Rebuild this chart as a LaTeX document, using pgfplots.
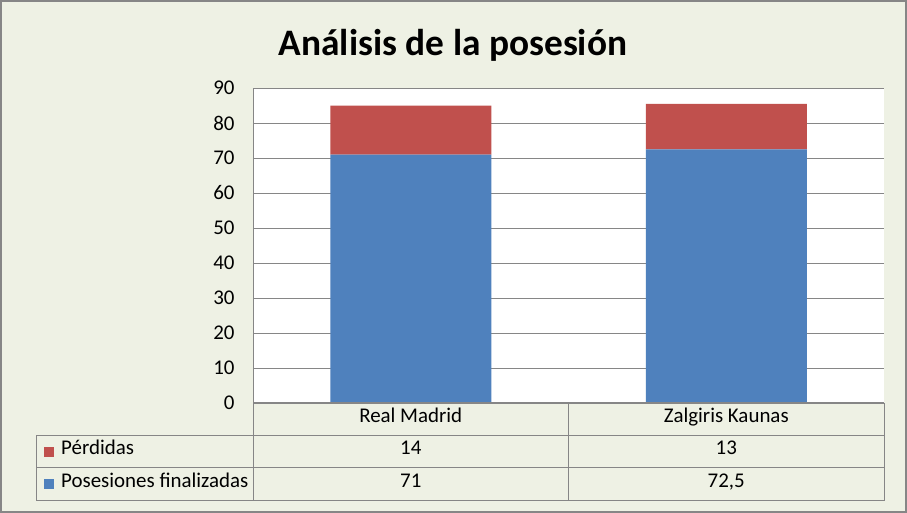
\documentclass[border=0pt]{standalone}
\usepackage{pgfplots}
\pgfplotsset{compat=1.18}
\usepackage{fontspec}
\setmainfont{Carlito}
\definecolor{bg}{RGB}{238,241,228}
\definecolor{frame}{RGB}{134,134,134}
\definecolor{gridc}{RGB}{134,134,134}
\definecolor{blu}{RGB}{79,129,189}
\definecolor{rd}{RGB}{192,80,77}
\begin{document}
\begin{tikzpicture}
\fill[bg] (0,0) rectangle (907bp,513bp);
\draw[frame, line width=2bp] (1bp,1bp) rectangle (906bp,512bp);
\node[font=\fontsize{37.5}{42}\selectfont\bfseries] at (453bp,468bp) {Análisis de la posesión};
\begin{axis}[
 at={(253bp,110bp)}, anchor=south west,
 scale only axis, width=631bp, height=315bp,
 xmin=0, xmax=2, ymin=0, ymax=90,
 ytick={0,10,...,90},
 xtick=\empty,
 ymajorgrids, grid style={gridc, line width=0.8bp},
 axis x line*=bottom, axis y line*=left,
 axis line style={gridc, line width=0.8bp, -},
 major tick length=0,
 ybar stacked, bar width=161bp,
 axis background/.style={fill=white},
 tick label style={font=\fontsize{21}{25}\selectfont},
 /pgf/number format/assume math mode=true,
 yticklabel style={xshift=-15bp},
 clip=false,
]
\addplot[fill=blu, draw=none] coordinates {(0.5,71) (1.5,72.5)};
\addplot[fill=rd, draw=none] coordinates {(0.5,14) (1.5,13)};
\end{axis}
\begin{scope}[gridc, line width=1bp]
\draw (253bp,110bp) -- (884bp,110bp);
\draw (36bp,77bp) -- (884bp,77bp);
\draw (36bp,45bp) -- (884bp,45bp);
\draw (36bp,12bp) -- (884bp,12bp);
\draw (253bp,12bp) -- (253bp,110bp);
\draw (568.5bp,12bp) -- (568.5bp,110bp);
\draw (884bp,12bp) -- (884bp,110bp);
\draw (36bp,12bp) -- (36bp,77bp);
\end{scope}
\begin{scope}[every node/.style={font=\fontsize{21}{25}\selectfont, text height=1.5ex, text depth=.25ex, inner sep=0pt}]
\node at (410.75bp,93.5bp) {Real Madrid};
\node at (726.25bp,93.5bp) {Zalgiris Kaunas};
\node at (410.75bp,61bp) {14};
\node at (726.25bp,61bp) {13};
\node at (410.75bp,28.5bp) {71};
\node at (726.25bp,28.5bp) {72,5};
\node[anchor=west] at (61bp,61bp) {Pérdidas};
\node[anchor=west] at (61bp,28.5bp) {Posesiones finalizadas};
\end{scope}
\fill[rd] (44bp,56bp) rectangle (54bp,66bp);
\fill[blu] (44bp,23.5bp) rectangle (54bp,33.5bp);
\end{tikzpicture}
\end{document}
